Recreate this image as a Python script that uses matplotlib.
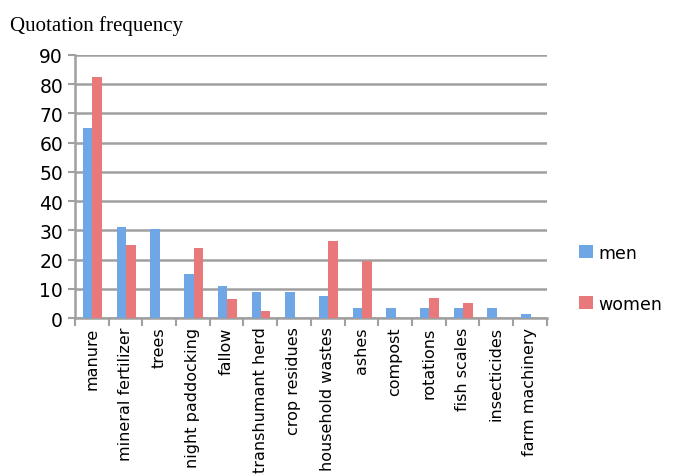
import numpy as np
import matplotlib
matplotlib.use("Agg")
import matplotlib.pyplot as plt

# Quotation frequency by practice
categories = ["manure", "mineral fertilizer", "trees", "night paddocking", "fallow",
              "transhumant herd", "crop residues", "household wastes", "ashes",
              "compost", "rotations", "fish scales", "insecticides", "farm machinery"]
men = [65, 31, 30.5, 15, 11, 9, 9, 7.5, 3.5, 3.5, 3.3, 3.3, 3.3, 1.5]
women = [82.5, 25, 0, 24, 6.5, 2.3, 0, 26.5, 19.5, 0, 6.8, 5, 0, 0]

fig = plt.figure(figsize=(6.75, 4.77), dpi=100)
ax = fig.add_axes([0.111, 0.331, 0.699, 0.552])

x = np.arange(len(categories))
w = 0.28
ax.bar(x - w / 2 + 0.02, men, w, color="#6fa6e6", label="men", zorder=3)
ax.bar(x + w / 2 + 0.02, women, w, color="#e8787a", label="women", zorder=3)

ax.set_xlim(-0.5, len(categories) - 0.5)
ax.set_ylim(0, 90)
ax.set_yticks(range(0, 91, 10))
ax.yaxis.grid(True, color="#a0a0a0", linewidth=1.8, zorder=0)
ax.tick_params(axis="y", length=5, width=1.5, color="#a0a0a0", labelsize=13.5)

ax.set_xticks(x)
ax.set_xticklabels(categories, rotation=90, fontsize=11.5)
ax.tick_params(axis="x", length=0, pad=6)
ax.set_xticks(np.arange(-0.5, len(categories)), minor=True)
ax.tick_params(axis="x", which="minor", length=6, width=1.5, color="#a0a0a0")

for s in ["top", "right"]:
    ax.spines[s].set_visible(False)
ax.spines["left"].set_color("#a0a0a0")
ax.spines["left"].set_linewidth(1.8)
ax.spines["bottom"].set_color("#a0a0a0")
ax.spines["bottom"].set_linewidth(1.8)

fig.text(0.015, 0.935, "Quotation frequency", fontsize=15, family="Liberation Serif")

fig.legend(loc="center left", bbox_to_anchor=(0.835, 0.415), frameon=False,
           fontsize=12.5, handlelength=0.8, handleheight=0.8, handletextpad=0.3,
           labelspacing=1.9)

fig.savefig("out.png", dpi=100)
